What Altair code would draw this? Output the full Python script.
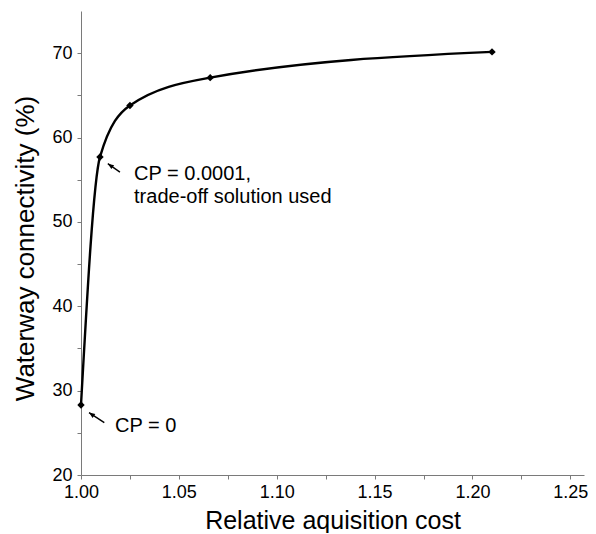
import altair as alt
import pandas as pd

# Trade-off curve points
cost = [1.000, 1.0097, 1.025, 1.066, 1.210]
conn = [28.3, 57.7, 63.8, 67.1, 70.15]

# Annotations
ann_text = ["CP = 0.0001,\ntrade-off solution used", "CP = 0"]
ann_x = [1.0271, 1.0174]
ann_y = [54.95, 25.06]
arrow_x_tail = [1.0199, 1.0119]
arrow_y_tail = [55.9, 26.2]
arrow_x_head = [1.0137, 1.0041]
arrow_y_head = [56.9, 27.4]

x_ticks = [1.0, 1.025, 1.05, 1.075, 1.1, 1.125, 1.15, 1.175, 1.2, 1.225, 1.25]
y_ticks = [20, 25, 30, 35, 40, 45, 50, 55, 60, 65, 70]

df = pd.DataFrame({"cost": cost, "conn": conn})
df_ann = pd.DataFrame({"t": ann_text, "x": ann_x, "y": ann_y})
df_arr = pd.DataFrame({"xt": arrow_x_tail, "yt": arrow_y_tail,
                       "xh": arrow_x_head, "yh": arrow_y_head})

FONT = "Liberation Sans"
xs = alt.Scale(domain=[1.0, 1.257], nice=False, zero=False)
ys = alt.Scale(domain=[20, 75], nice=False, zero=False)

xax = alt.Axis(values=x_ticks,
               labelExpr="round(datum.value*1000) % 50 == 0 ? format(datum.value, '.2f') : ''",
               title="Relative aquisition cost", grid=False,
               domainColor="#7a7a7a", tickColor="#7a7a7a", tickSize=4,
               labelFontSize=18, labelFont=FONT, labelColor="black", labelPadding=4,
               titleFontSize=25, titleFont=FONT, titleFontWeight="normal",
               titleColor="black", titlePadding=7, labelFlush=False)
yax = alt.Axis(values=y_ticks,
               labelExpr="datum.value % 10 == 0 ? format(datum.value, 'd') : ''",
               title="Waterway connectivity (%)", grid=False,
               domainColor="#7a7a7a", tickColor="#7a7a7a", tickSize=4,
               labelFontSize=18, labelFont=FONT, labelColor="black", labelPadding=5,
               titleFontSize=26, titleFont=FONT, titleFontWeight="normal",
               titleColor="black", titlePadding=13, titleY=237, labelFlush=False)

line = alt.Chart(df).mark_line(interpolate="monotone", color="black", strokeWidth=2.4).encode(
    x=alt.X("cost:Q", scale=xs, axis=xax),
    y=alt.Y("conn:Q", scale=ys, axis=yax),
)
pts = alt.Chart(df).mark_point(shape="diamond", filled=True, size=55, color="black", opacity=1).encode(
    x=alt.X("cost:Q", scale=xs, axis=xax),
    y=alt.Y("conn:Q", scale=ys, axis=yax),
)
arrows = alt.Chart(df_arr).mark_rule(color="black", strokeWidth=1.4).encode(
    x=alt.X("xt:Q", scale=xs, axis=xax),
    y=alt.Y("yt:Q", scale=ys, axis=yax),
    x2="xh:Q", y2="yh:Q",
)
heads = alt.Chart(df_arr).mark_point(shape="M0,0L0.8,2L-0.8,2Z", filled=True, size=36,
                                     angle=305, color="black", opacity=1).encode(
    x=alt.X("xh:Q", scale=xs, axis=xax),
    y=alt.Y("yh:Q", scale=ys, axis=yax),
)
texts = alt.Chart(df_ann).mark_text(align="left", baseline="alphabetic", fontSize=20, font=FONT,
                                    lineBreak="\n", lineHeight=23, color="black").encode(
    x=alt.X("x:Q", scale=xs, axis=xax),
    y=alt.Y("y:Q", scale=ys, axis=yax),
    text="t:N",
)

chart = alt.layer(line, pts, arrows, heads, texts).properties(
    width=503, height=464,
    background="white",
    autosize=alt.AutoSizeParams(type="none"),
    padding={"left": 73, "top": 3, "right": 4, "bottom": 58},
).configure_view(stroke="transparent", strokeOpacity=0, strokeWidth=0)

chart.save("out.html", embed_options={"renderer": "svg", "actions": False})
